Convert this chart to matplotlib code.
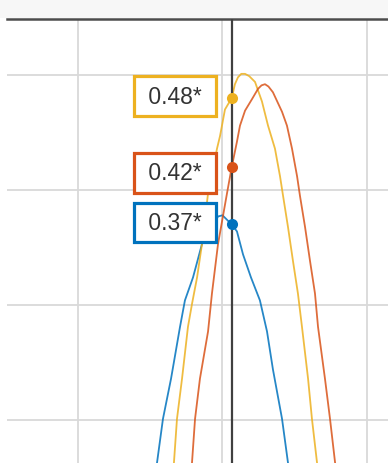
import matplotlib
matplotlib.use("Agg")
import matplotlib.pyplot as plt
from matplotlib.patches import Rectangle

plt.rcParams['font.family'] = ['Liberation Sans', 'DejaVu Sans']

# Cursor position along x
cursor_x = 206.4

# Series traces (x, value)
blue_x = [154.7, 158.8, 164.4, 170.6, 174.0, 179.6, 185.8, 196.9, 200.0, 206.4,
          210.0, 214.2, 219.7, 225.9, 230.8, 234.9, 241.2, 245.3]
blue_y = [0.163, 0.201, 0.236, 0.281, 0.304, 0.324, 0.353, 0.377, 0.378, 0.370,
          0.364, 0.344, 0.324, 0.304, 0.277, 0.244, 0.201, 0.163]

yellow_x = [166.4, 168.5, 172.0, 176.1, 178.9, 182.4, 185.8, 190.0, 196.2, 198.3,
            201.7, 206.4, 208.6, 210.7, 213.0, 215.6, 218.5, 222.5, 227.3, 231.5,
            236.3, 239.8, 241.9, 245.3, 248.8, 252.2, 255.0, 259.2, 261.9, 265.4]
yellow_y = [0.163, 0.201, 0.236, 0.281, 0.301, 0.324, 0.353, 0.397, 0.436, 0.447,
            0.470, 0.480, 0.492, 0.498, 0.501, 0.501, 0.499, 0.494, 0.477, 0.456,
            0.436, 0.412, 0.395, 0.368, 0.338, 0.310, 0.281, 0.236, 0.201, 0.163]

orange_x = [178.9, 181.0, 184.4, 190.0, 192.7, 196.9, 203.1, 206.4, 210.0, 212.1,
            215.6, 220.4, 224.6, 227.0, 229.4, 231.8, 234.9, 241.2, 244.6, 248.1,
            251.6, 253.6, 257.1, 260.6, 264.0, 266.1, 270.9, 274.4, 277.9]
orange_y = [0.163, 0.201, 0.236, 0.277, 0.310, 0.353, 0.397, 0.420, 0.442, 0.456,
            0.469, 0.479, 0.488, 0.491, 0.492, 0.490, 0.485, 0.468, 0.456, 0.436,
            0.412, 0.395, 0.368, 0.338, 0.310, 0.281, 0.236, 0.201, 0.163]

# Values read at the cursor and their labels (yellow, orange, blue)
cursor_values = [0.48, 0.42, 0.37]
cursor_labels = ["0.48*", "0.42*", "0.37*"]

x_grid = [100, 200, 300]
y_grid = [0.2, 0.3, 0.4, 0.5]

c_blue = "#0072BD"
c_orange = "#D95319"
c_yellow = "#EDB120"

W, H = 388, 464
fig = plt.figure(figsize=(W / 100, H / 100), dpi=100)
fig.patch.set_facecolor("white")

# toolbar-like band across the top
fig.patches.append(Rectangle((0, 1 - 19 / H), 1, 19 / H, transform=fig.transFigure,
                             facecolor="#f7f7f7", edgecolor="none", zorder=0))

ax = fig.add_axes([7 / W, 0, 1 - 7 / W, 1 - 20 / H])
ax.set_facecolor("white")
ax.set_xlim(50.87, 314.53)
ax.set_ylim(0.1626, 0.5487)

for s in ["left", "right", "bottom"]:
    ax.spines[s].set_visible(False)
ax.spines["top"].set_color("#4d4d4d")
ax.spines["top"].set_linewidth(1.8)
ax.set_xticks([])
ax.set_yticks([])

for gx in x_grid:
    ax.axvline(gx, color="#d9d9d9", lw=1.3, zorder=1)
for gy in y_grid:
    ax.axhline(gy, color="#d9d9d9", lw=1.3, zorder=1)

ax.plot(blue_x, blue_y, color=c_blue, lw=1.3, zorder=2, alpha=0.85)
ax.plot(yellow_x, yellow_y, color=c_yellow, lw=1.3, zorder=2, alpha=0.85)
ax.plot(orange_x, orange_y, color=c_orange, lw=1.3, zorder=2, alpha=0.85)

ax.axvline(cursor_x, color="#404040", lw=1.6, zorder=3)

colors = [c_yellow, c_orange, c_blue]
label_dy = [2, -6, 2]
for val, lab, col, dy in zip(cursor_values, cursor_labels, colors, label_dy):
    ax.plot([cursor_x], [val], "o", color=col, ms=8, mec="none", zorder=4)
    ax.annotate(" " + lab + " ", xy=(cursor_x, val), xytext=(-24, dy),
                textcoords="offset pixels", ha="right", va="center",
                fontsize=16.5, color="#333333", zorder=5,
                bbox=dict(boxstyle="square,pad=0.35", facecolor="white",
                          edgecolor=col, linewidth=2.3))

fig.savefig("out.png", dpi=100)
